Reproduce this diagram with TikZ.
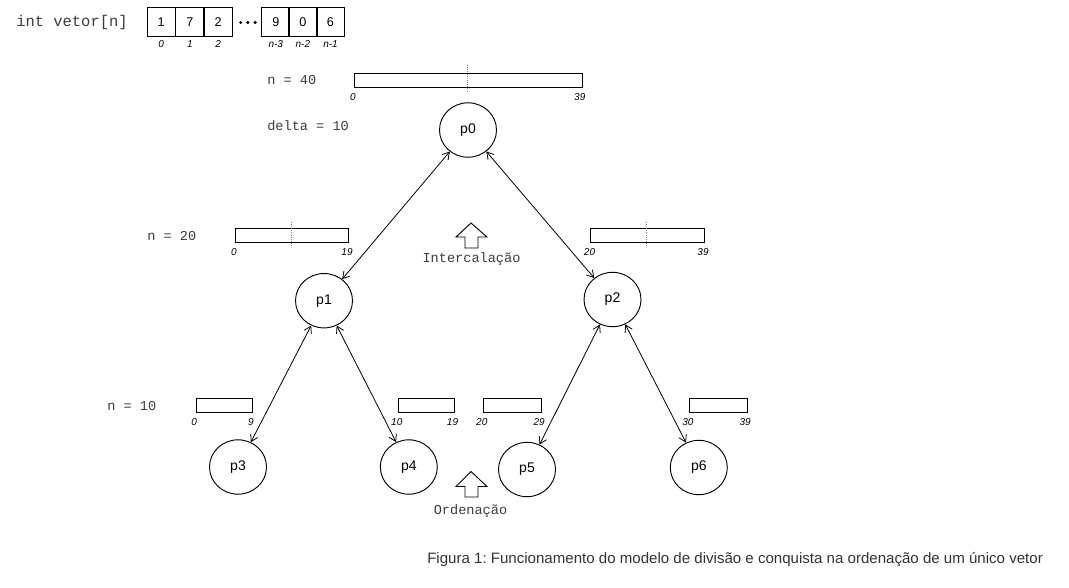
\documentclass[tikz,border=0pt]{standalone}
\usepackage{fontspec}
\setmainfont{Liberation Sans}
\setmonofont{Liberation Mono}
\usetikzlibrary{arrows.meta,shapes.geometric}
\definecolor{txtgray}{HTML}{3C3C3C}
\definecolor{capgray}{HTML}{333333}
\frenchspacing
\begin{document}
\begin{tikzpicture}[x=0.75pt,y=-0.75pt,
  proc/.style={ellipse,draw,line width=0.7pt,minimum width=42.75pt,minimum height=40.8pt,inner sep=0pt,font=\fontsize{10.5}{12}\selectfont},
  cell/.style={draw,line width=0.7pt,minimum width=21.2pt,minimum height=21.5pt,inner sep=0pt,font=\fontsize{9.5}{11}\selectfont},
  idx/.style={font=\fontsize{7.5}{8}\selectfont\itshape,inner sep=0pt},
  mono/.style={font=\fontsize{10.2}{12}\selectfont\ttfamily,text=txtgray,inner sep=0pt},
  bigmono/.style={font=\fontsize{11.6}{13}\selectfont\ttfamily,text=txtgray,inner sep=0pt},
  bar/.style={draw,line width=0.7pt,minimum height=10.5pt,inner sep=0pt,anchor=north west},
  link/.style={{Straight Barb[length=5pt,width=6pt]}-{Straight Barb[length=5pt,width=6pt]},line width=0.6pt},
  mid/.style={gray,densely dotted,line width=0.6pt},
  uparrow/.style={draw,line width=0.7pt,fill=white},
  dot/.style={circle,fill=black,inner sep=0pt,minimum size=2.5pt}
  ]
\useasboundingbox (0,0) rectangle (1069,587);

% array
\node[bigmono,anchor=west] (vec) at (16,22) {int vetor[n]};
\node[cell] (c1) at (161.2,22) {1};
\node[cell] (c2) at (189.8,22) {7};
\node[cell] (c3) at (218.2,22) {2};
\node[dot] (d1) at (240.7,22.5) {};
\node[dot] (d2) at (247.9,22.5) {};
\node[dot] (d3) at (255.1,22.5) {};
\node[cell] (c4) at (275.8,22) {9};
\node[cell] (c5) at (302.9,22) {0};
\node[cell] (c6) at (330.5,22) {6};
\node[idx] (i1) at (161.2,44.5) {0};
\node[idx] (i2) at (189.8,44.5) {1};
\node[idx] (i3) at (218.2,44.5) {2};
\node[idx] (i4) at (275.8,44.5) {n-3};
\node[idx] (i5) at (302.9,44.5) {n-2};
\node[idx] (i6) at (330.5,44.5) {n-1};

% level n = 40
\node[mono,anchor=west] (n40) at (267,80) {n = 40};
\node[mono,anchor=west] (delta) at (267,126) {delta = 10};
\node[bar,minimum width=170.5pt] (b0) at (354.3,72.7) {};
\draw[mid] (467.7,65) -- (467.7,92);
\node[idx] (b0l) at (352.8,97) {0};
\node[idx] (b0r) at (579.8,97) {39};

% level n = 20
\node[mono,anchor=west] (n20) at (147,236) {n = 20};
\node[bar,minimum width=84.75pt] (b1) at (235.3,228.3) {};
\draw[mid] (291.7,221.7) -- (291.7,247.3);
\node[idx] (b1l) at (233.8,252) {0};
\node[idx] (b1r) at (347,252) {19};
\node[bar,minimum width=85.5pt] (b2) at (590,228.3) {};
\draw[mid] (646.7,221.7) -- (646.7,247.3);
\node[idx] (b2l) at (589.5,252) {20};
\node[idx] (b2r) at (703,252) {39};

% level n = 10
\node[mono,anchor=west] (n10) at (107,406) {n = 10};
\node[bar,minimum width=42.5pt] (b3) at (195.7,398.3) {};
\node[idx] (b3l) at (194.2,421.7) {0};
\node[idx] (b3r) at (251,421.7) {9};
\node[bar,minimum width=42pt] (b4) at (398.3,398.3) {};
\node[idx] (b4l) at (396.8,421.7) {10};
\node[idx] (b4r) at (452.5,421.7) {19};
\node[bar,minimum width=43pt] (b5) at (483.3,398.3) {};
\node[idx] (b5l) at (481.8,421.7) {20};
\node[idx] (b5r) at (539.2,421.7) {29};
\node[bar,minimum width=43pt] (b6) at (689.3,398.3) {};
\node[idx] (b6l) at (687.8,421.7) {30};
\node[idx] (b6r) at (745.2,421.7) {39};

% processes
\node[proc] (p0) at (468,130) {p0};
\node[proc] (p1) at (324,300.7) {p1};
\node[proc] (p2) at (612.5,299.5) {p2};
\node[proc] (p3) at (238,467) {p3};
\node[proc] (p4) at (408.8,467) {p4};
\node[proc] (p5) at (527,469.5) {p5};
\node[proc] (p6) at (698.8,467.5) {p6};

\draw[link] (p0) -- (p1);
\draw[link] (p0) -- (p2);
\draw[link] (p1) -- (p3);
\draw[link] (p1) -- (p4);
\draw[link] (p2) -- (p5);
\draw[link] (p2) -- (p6);

% block arrows
\draw[uparrow] (471,223) -- (487,237) -- (478,237) -- (478,248) -- (465,248) -- (465,237) -- (456,237) -- cycle;
\node[mono] (inter) at (471.5,259) {Intercalação};
\draw[uparrow] (471,471.5) -- (487,486.5) -- (478,486.5) -- (478,497) -- (465,497) -- (465,486.5) -- (456,486.5) -- cycle;
\node[mono] (orden) at (470.5,511) {Ordenação};

% caption
\node[anchor=west,inner sep=0pt,text=capgray,font=\fontsize{11.3}{13}\selectfont] (cap) at (427,560) {Figura 1: Funcionamento do modelo de divisão e conquista na ordenação de um único vetor};
\end{tikzpicture}
\end{document}
